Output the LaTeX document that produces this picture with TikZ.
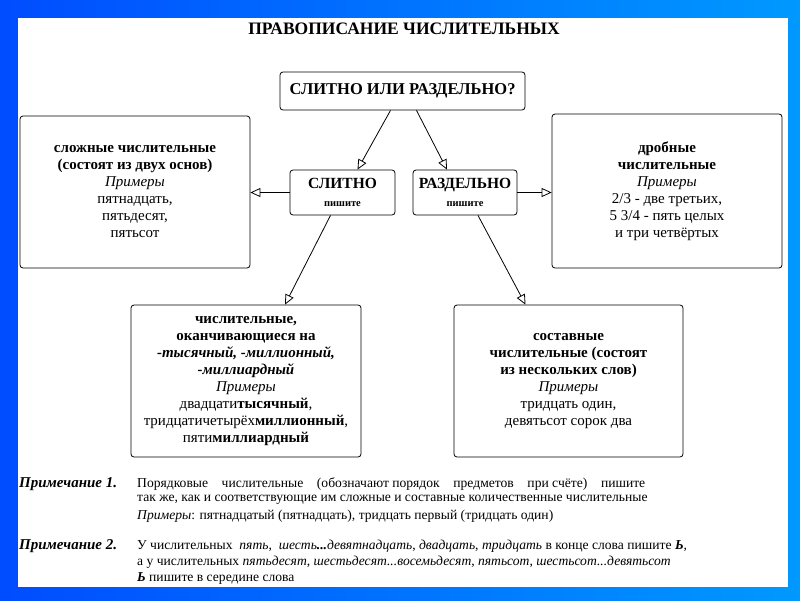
\documentclass[tikz,border=0pt]{standalone}
\usepackage{fontspec}
\setmainfont{Liberation Serif}
\usetikzlibrary{arrows.meta,calc}
\tikzset{
  box/.style={draw, thick, rounded corners=3pt, align=center, inner sep=2pt},
  link/.style={thick, -{Triangle[open, length=10pt, width=9pt]}},
  note/.style={anchor=west, inner sep=0pt, font=\fontsize{13.6}{15}\selectfont},
  bodytext/.style={font=\fontsize{15}{17}\selectfont}
}
\newcommand{\prim}{\textit{Примеры}}
\begin{document}
\begin{tikzpicture}[x=1pt,y=-1pt]
  \shade[left color=blue!70!cyan, right color=cyan!60!blue] (0,0) rectangle (800,600);
  \fill[white] (18,18) rectangle (788,587);
  \useasboundingbox (0,0) rectangle (800,600);

  \node[font=\bfseries\fontsize{17.5}{20}\selectfont] (title) at (404,29) {ПРАВОПИСАНИЕ ЧИСЛИТЕЛЬНЫХ};

  \node[box, minimum width=245, minimum height=38, font=\bfseries\fontsize{16.5}{18}\selectfont] (q) at (402.5,91) {СЛИТНО ИЛИ РАЗДЕЛЬНО?};
  \node[box, minimum width=105, minimum height=45, font=\bfseries\fontsize{15.5}{17}\selectfont] (sl) at (342.5,192.5)
    {СЛИТНО\\[1pt]{\fontsize{10.5}{11}\selectfont пишите}};
  \node[box, minimum width=104, minimum height=45, font=\bfseries\fontsize{15.5}{17}\selectfont] (raz) at (465,192.5)
    {РАЗДЕЛЬНО\\[1pt]{\fontsize{10.5}{11}\selectfont пишите}};

  \node[box, bodytext, minimum width=230, minimum height=152] (slozh) at (135,192)
    {\textbf{сложные числительные}\\\textbf{(состоят из двух основ)}\\\prim\\пятнадцать,\\пятьдесят,\\пятьсот};
  \node[box, bodytext, minimum width=230, minimum height=154] (drob) at (667,191)
    {\textbf{дробные}\\\textbf{числительные}\\\prim\\2/3 - две третьих,\\5 3/4 - пять целых\\и три четвёртых};
  \node[box, bodytext, minimum width=230, minimum height=152] (okan) at (246,381)
    {\textbf{числительные,}\\\textbf{оканчивающиеся на}\\\textbf{\textit{-тысячный, -миллионный,}}\\\textbf{\textit{-миллиардный}}\\\prim\\двадцати\textbf{тысячный},\\тридцатичетырёх\textbf{миллионный},\\пяти\textbf{миллиардный}};
  \node[box, bodytext, minimum width=229, minimum height=152] (sost) at (568.5,381)
    {\textbf{составные}\\\textbf{числительные (состоят}\\\textbf{из нескольких слов)}\\\prim\\тридцать один,\\девятьсот сорок два};

  % connectors
  \draw[link] ($(q.south)+(-12,0)$) -- ($(sl.north)+(15,0)$);
  \draw[link] ($(q.south)+(14,0)$) -- ($(raz.north)+(-18,0)$);
  \draw[link] (sl.west) -- (sl.west -| slozh.east);
  \draw[link] (raz.east) -- (raz.east -| drob.west);
  \draw[link] ($(sl.south)+(-12,0)$) -- ($(okan.north)+(39,0)$);
  \draw[link] ($(raz.south)+(13,0)$) -- ($(sost.north)+(-43,0)$);

  \node[note, font=\bfseries\itshape\fontsize{15}{16}\selectfont] (p1) at (19,484) {Примечание 1.};
  \node[note] (p1a) at (137,484) {Порядковые\quad числительные\quad (обозначают порядок\quad предметов\quad при\ счёте)\quad пишите};
  \node[note] (p1b) at (137,500) {так же, как и соответствующие им сложные и составные количественные числительные};
  \node[note] (p1c) at (137,516) {\textit{Примеры}: пятнадцатый (пятнадцать), тридцать первый (тридцать один)};

  \node[note, font=\bfseries\itshape\fontsize{15}{16}\selectfont] (p2) at (19,546) {Примечание 2.};
  \node[note] (p2a) at (137,546) {У числительных\ \ \textit{пять},\ \ \textit{шесть\textbf{...}девятнадцать}, \textit{двадцать}, \textit{тридцать} в конце слова пишите \textbf{\textit{Ь}},};
  \node[note] (p2b) at (137,562) {а у числительных \textit{пятьдесят}, \textit{шестьдесят...восемьдесят}, \textit{пятьсот}, \textit{шестьсот...девятьсот}};
  \node[note] (p2c) at (137,578) {\textbf{\textit{Ь}} пишите в середине слова};
\end{tikzpicture}
\end{document}
